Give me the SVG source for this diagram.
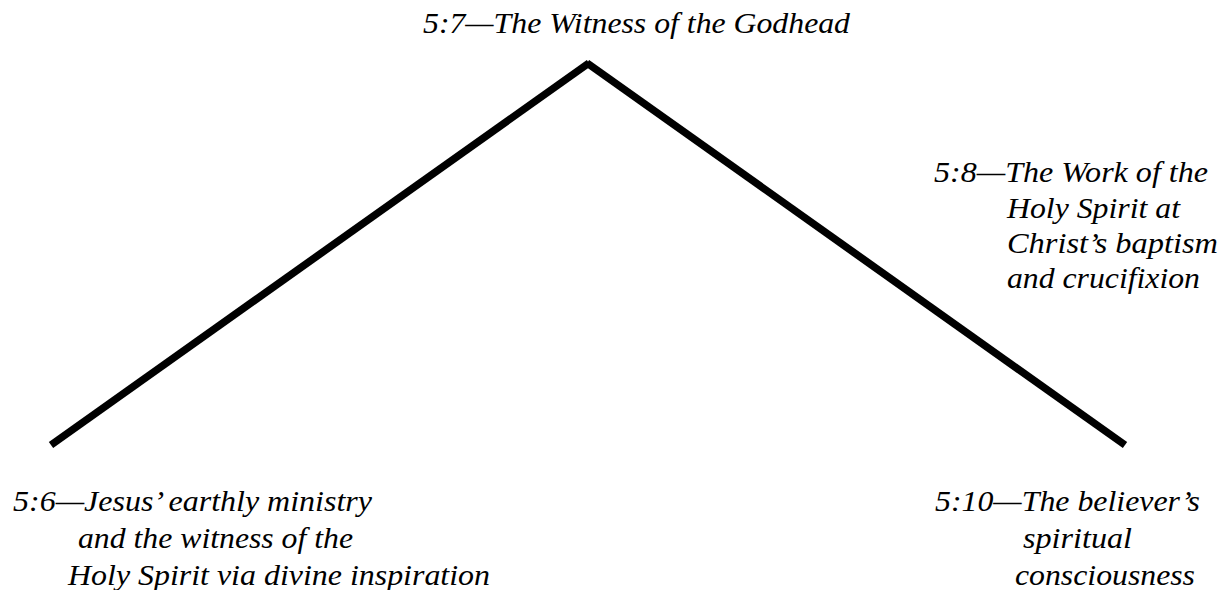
<svg xmlns="http://www.w3.org/2000/svg" width="1226" height="590" viewBox="0 0 1226 590">
<style>
.t{font-family:"Liberation Serif","Times New Roman",serif;font-style:italic;font-size:29px;fill:#000}
.c{stroke:#000;stroke-width:7.5;fill:none;stroke-linecap:butt}
</style>
<rect width="1226" height="590" fill="#fff"/>
<g id="connectors">
<line class="c" x1="51" y1="445" x2="589" y2="63"/>
<line class="c" x1="587" y1="63" x2="1125" y2="445"/>
</g>
<g id="top"><text class="t" x="423" y="33" textLength="427" lengthAdjust="spacingAndGlyphs">5:7—The Witness of the Godhead</text></g>
<g id="right">
<text class="t" x="934" y="182" textLength="274" lengthAdjust="spacingAndGlyphs">5:8—The Work of the</text>
<text class="t" x="1007" y="218" textLength="173" lengthAdjust="spacingAndGlyphs">Holy Spirit at</text>
<text class="t" x="1007" y="253" textLength="211" lengthAdjust="spacingAndGlyphs">Christ’s baptism</text>
<text class="t" x="1007" y="288" textLength="193" lengthAdjust="spacingAndGlyphs">and crucifixion</text>
</g>
<g id="left">
<text class="t" x="13" y="511" textLength="359" lengthAdjust="spacingAndGlyphs">5:6—Jesus’ earthly ministry</text>
<text class="t" x="78" y="548" textLength="275" lengthAdjust="spacingAndGlyphs">and the witness of the</text>
<text class="t" x="68" y="585" textLength="422" lengthAdjust="spacingAndGlyphs">Holy Spirit via divine inspiration</text>
</g>
<g id="bottomright">
<text class="t" x="935" y="511" textLength="265" lengthAdjust="spacingAndGlyphs">5:10—The believer’s</text>
<text class="t" x="1023" y="548" textLength="109" lengthAdjust="spacingAndGlyphs">spiritual</text>
<text class="t" x="1015" y="585" textLength="180" lengthAdjust="spacingAndGlyphs">consciousness</text>
</g>
</svg>
